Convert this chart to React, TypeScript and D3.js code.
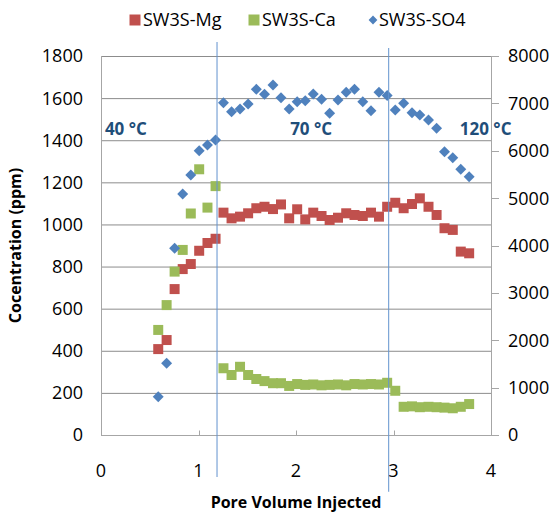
import { useEffect, useRef } from "react";
import * as d3 from "d3";

// pore volumes injected (shared by all three series)
const pv = [
  0.587, 0.673, 0.755, 0.838, 0.921, 1.007, 1.092, 1.175, 1.256, 1.339, 1.426, 1.509, 1.593,
  1.677, 1.764, 1.846, 1.93, 2.012, 2.095, 2.177, 2.262, 2.345, 2.431, 2.515, 2.6, 2.685,
  2.769, 2.851, 2.935, 3.018, 3.104, 3.19, 3.27, 3.359, 3.442, 3.523, 3.608, 3.69, 3.776,
];
const mg = [
  408, 451, 693, 788, 812, 875, 912, 932, 1056, 1029, 1037, 1053, 1077, 1084, 1073, 1095,
  1029, 1072, 1024, 1056, 1040, 1021, 1032, 1053, 1045, 1040, 1056, 1037, 1084, 1103, 1077,
  1097, 1124, 1084, 1045, 982, 974, 871, 863,
];
const ca = [
  499, 617, 776, 879, 1052, 1262, 1080, 1182, 317, 285, 324, 285, 266, 256, 246, 246, 233,
  242, 238, 240, 236, 238, 240, 236, 242, 240, 242, 240, 248, 210, 134, 136, 132, 134, 132,
  130, 127, 134, 147,
];
const so4 = [
  808, 1513, 3941, 5087, 5488, 6001, 6121, 6227, 7014, 6824, 6881, 6987, 7297, 7191, 7388,
  7120, 6881, 7035, 7056, 7198, 7086, 6790, 7071, 7234, 7297, 7035, 6845, 7234, 7166, 6860,
  7002, 6803, 6755, 6649, 6474, 5980, 5853, 5608, 5452,
];

const leftTicks = [0, 200, 400, 600, 800, 1000, 1200, 1400, 1600, 1800];
const rightTicks = [0, 1000, 2000, 3000, 4000, 5000, 6000, 7000, 8000];
const xTicks = [0, 1, 2, 3, 4];

// temperature step boundaries (PV) and their top / bottom ends (ppm, left axis)
const stepX = [1.19, 2.95];
const stepTop = [1866, 1838];
const stepBottom = [-200, -270];

const tempLabels = ["40 °C", "70 °C", "120 °C"];
const tempX = [0.04, 1.94, 3.68];
const tempY = 1455;

const seriesNames = ["SW3S-Mg", "SW3S-Ca", "SW3S-SO4"];
const colors = ["#C0504D", "#9BBB59", "#4F81BD"];

const App = () => {
  const svgRef = useRef<SVGSVGElement>(null);

  useEffect(() => {
    document.body.style.margin = "0";
    if (!svgRef.current) return;
    const svg = d3.select(svgRef.current);
    svg.selectAll("*").remove();

    const width = 553;
    const height = 514;
    const margin = { top: 56, right: 62, bottom: 79, left: 101 };
    const font = "'Open Sans', sans-serif";

    const x = d3.scaleLinear().domain([0, 4]).range([margin.left, width - margin.right]);
    const yL = d3.scaleLinear().domain([0, 1800]).range([height - margin.bottom, margin.top]);
    const yR = d3.scaleLinear().domain([0, 8000]).range([height - margin.bottom, margin.top]);

    svg.append("rect").attr("width", width).attr("height", height).attr("fill", "#fff");

    // gridlines
    svg
      .selectAll("line.grid")
      .data(leftTicks.slice(1))
      .join("line")
      .attr("class", "grid")
      .attr("x1", x(0))
      .attr("x2", x(4))
      .attr("y1", (d) => yL(d) + 0.5)
      .attr("y2", (d) => yL(d) + 0.5)
      .attr("stroke", "#8c8c8c")
      .attr("stroke-width", 1);

    // axes lines
    const bottomY = yL(0) + 0.5;
    svg.append("line").attr("x1", x(0) + 0.5).attr("x2", x(0) + 0.5).attr("y1", yL(1800)).attr("y2", bottomY)
      .attr("stroke", "#a6a6a6");
    svg.append("line").attr("x1", x(4) + 0.5).attr("x2", x(4) + 0.5).attr("y1", yL(1800)).attr("y2", bottomY)
      .attr("stroke", "#a6a6a6");
    svg.append("line").attr("x1", x(0)).attr("x2", x(4)).attr("y1", bottomY).attr("y2", bottomY)
      .attr("stroke", "#a6a6a6");

    // right axis ticks
    svg
      .selectAll("line.rtick")
      .data(rightTicks)
      .join("line")
      .attr("class", "rtick")
      .attr("x1", x(4))
      .attr("x2", x(4) + 8)
      .attr("y1", (d) => Math.round(yR(d)) + 0.5)
      .attr("y2", (d) => Math.round(yR(d)) + 0.5)
      .attr("stroke", "#a6a6a6");

    // x ticks (inside)
    svg
      .selectAll("line.xtick")
      .data(xTicks)
      .join("line")
      .attr("class", "xtick")
      .attr("x1", (d) => Math.round(x(d)) + 0.5)
      .attr("x2", (d) => Math.round(x(d)) + 0.5)
      .attr("y1", bottomY)
      .attr("y2", bottomY - 5)
      .attr("stroke", "#a6a6a6");

    // tick labels
    svg
      .selectAll("text.ly")
      .data(leftTicks)
      .join("text")
      .attr("class", "ly")
      .attr("x", x(0) - 18)
      .attr("y", (d) => yL(d))
      .attr("dy", "0.36em")
      .attr("text-anchor", "end")
      .attr("font-family", font)
      .attr("font-size", "18px")
      .attr("fill", "#000")
      .text((d) => d);

    svg
      .selectAll("text.ry")
      .data(rightTicks)
      .join("text")
      .attr("class", "ry")
      .attr("x", x(4) + 17)
      .attr("y", (d) => yR(d))
      .attr("dy", "0.36em")
      .attr("font-family", font)
      .attr("font-size", "18px")
      .attr("fill", "#000")
      .text((d) => d);

    svg
      .selectAll("text.xl")
      .data(xTicks)
      .join("text")
      .attr("class", "xl")
      .attr("x", (d) => x(d))
      .attr("y", yL(0) + 36)
      .attr("dy", "0.36em")
      .attr("text-anchor", "middle")
      .attr("font-family", font)
      .attr("font-size", "18px")
      .attr("fill", "#000")
      .text((d) => d);

    // axis titles
    svg
      .append("text")
      .attr("x", (x(0) + x(4)) / 2)
      .attr("y", height - 6)
      .attr("text-anchor", "middle")
      .attr("font-family", font)
      .attr("font-size", "16px")
      .attr("font-weight", "700")
      .text("Pore Volume Injected");

    svg
      .append("text")
      .attr("transform", `translate(21, ${(yL(0) + yL(1800)) / 2}) rotate(-90)`)
      .attr("text-anchor", "middle")
      .attr("font-family", font)
      .attr("font-size", "16px")
      .attr("font-weight", "700")
      .text("Cocentration (ppm)");

    // markers
    const square = d3.symbol().type(d3.symbolSquare).size(100);
    const diamond = d3.symbol().type(d3.symbolSquare).size(60);

    svg
      .selectAll("path.mg")
      .data(pv.map((p, i) => [p, mg[i]]))
      .join("path")
      .attr("class", "mg")
      .attr("d", square()!)
      .attr("transform", (d) => `translate(${x(d[0])},${yL(d[1])})`)
      .attr("fill", colors[0]);

    svg
      .selectAll("path.ca")
      .data(pv.map((p, i) => [p, ca[i]]))
      .join("path")
      .attr("class", "ca")
      .attr("d", square()!)
      .attr("transform", (d) => `translate(${x(d[0])},${yL(d[1])})`)
      .attr("fill", colors[1]);

    svg
      .selectAll("path.so4")
      .data(pv.map((p, i) => [p, so4[i]]))
      .join("path")
      .attr("class", "so4")
      .attr("d", diamond()!)
      .attr("transform", (d) => `translate(${x(d[0])},${yR(d[1])}) rotate(45)`)
      .attr("fill", colors[2]);

    // temperature step lines
    svg
      .selectAll("line.step")
      .data(stepX)
      .join("line")
      .attr("class", "step")
      .attr("x1", (d) => x(d))
      .attr("x2", (d) => x(d))
      .attr("y1", (_, i) => yL(stepTop[i]))
      .attr("y2", (_, i) => yL(stepBottom[i]))
      .attr("stroke", "#6494cf")
      .attr("stroke-opacity", 0.85)
      .attr("stroke-width", 1.2);

    svg
      .selectAll("text.temp")
      .data(tempLabels)
      .join("text")
      .attr("class", "temp")
      .attr("x", (_, i) => x(tempX[i]))
      .attr("y", yL(tempY))
      .attr("dy", "0.36em")
      .attr("font-family", font)
      .attr("font-size", "17px")
      .attr("font-weight", "700")
      .attr("fill", "#1F4E79")
      .text((d) => d);

    // legend
    const legendX = [129, 248, 368];
    const lg = svg
      .selectAll("g.legend")
      .data(seriesNames)
      .join("g")
      .attr("class", "legend")
      .attr("transform", (_, i) => `translate(${legendX[i]}, 20)`);
    lg.append("path")
      .attr("d", (_, i) => (i === 2 ? diamond()! : square()!))
      .attr("transform", (_, i) => (i === 2 ? "translate(5,0) rotate(45) scale(0.8)" : "translate(6,0) scale(1.1)"))
      .attr("fill", (_, i) => colors[i]);
    lg.append("text")
      .attr("x", (_, i) => (i === 2 ? 11 : 14))
      .attr("dy", "0.36em")
      .attr("font-family", font)
      .attr("font-size", "18px")
      .attr("fill", "#000")
      .text((d) => d);
  }, []);

  return <svg ref={svgRef} width={553} height={514} style={{ display: "block" }} />;
};

export default App;
